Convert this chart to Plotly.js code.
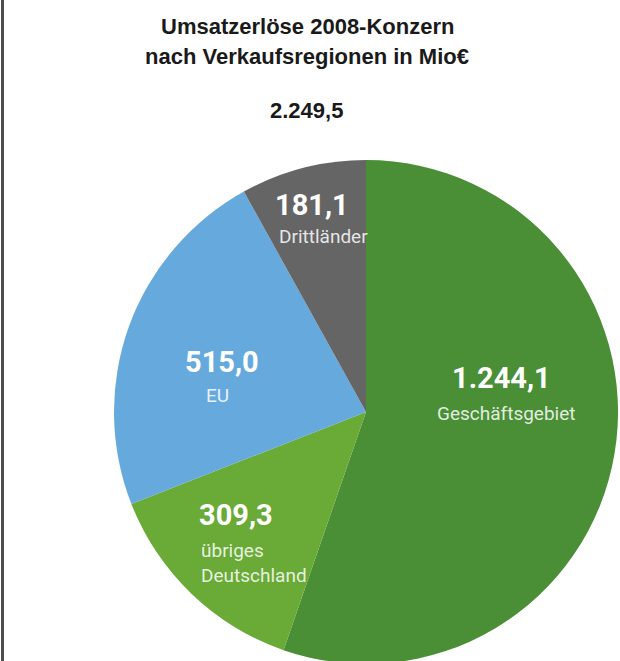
<!DOCTYPE html>
<html>
<head>
<meta charset="utf-8">
<script src="https://cdn.plot.ly/plotly-3.0.1.min.js"></script>
<style>
html,body{margin:0;padding:0;overflow:hidden;background:#fff;}
#chart{width:620px;height:668px;}
</style>
</head>
<body>
<div id="chart"></div>
<script>
// Data
const categories = ["Geschäftsgebiet", "übriges Deutschland", "EU", "Drittländer"];
const categoryLines = ["Geschäftsgebiet", "übriges<br>Deutschland", "EU", "Drittländer"];
const values = [1244.1, 309.3, 515.0, 181.1];
const colors = ["#4a8f36", "#6aaa36", "#66a9dc", "#656565"];
const titleLines = ["Umsatzerlöse 2008-Konzern", "nach Verkaufsregionen in Mio€"];

const W = 620, H = 668;
const px = x => x / W;
const py = y => 1 - y / H;

function de(v) {
  const parts = v.toFixed(1).split(".");
  parts[0] = parts[0].replace(/\B(?=(\d{3})+(?!\d))/g, ".");
  return parts.join(",");
}
const total = Math.round(values.reduce((a, b) => a + b, 0) * 10) / 10;

// label placement (pixel positions of value line and category line)
const labelPos = [
  {vx: 501, vy: 378, lx: 506, ly: 414, anchor: "center"},
  {vx: 197, vy: 515, lx: 199, ly: 563, anchor: "left"},
  {vx: 222, vy: 362, lx: 217, ly: 395, anchor: "center"},
  {vx: 273, vy: 205, lx: 277, ly: 236, anchor: "left"}
];

const valueFont = {family: "Roboto, 'Liberation Sans', sans-serif", size: 29, color: "#ffffff", weight: 700};
const labelFont = {family: "Roboto, 'DejaVu Sans', sans-serif", size: 19, color: "rgba(255,255,255,0.85)", stretch: "condensed"};

const annotations = [];
titleLines.forEach((t, i) => {
  annotations.push({
    text: t, xref: "paper", yref: "paper", x: px(307), y: py(i === 0 ? 26 : 57),
    xanchor: "center", yanchor: "middle", showarrow: false,
    font: {family: "'Liberation Sans', Arial, sans-serif", size: 22, color: "#1a1a1a", weight: 700}
  });
});
annotations.push({
  text: de(total), xref: "paper", yref: "paper", x: px(306), y: py(110),
  xanchor: "center", yanchor: "middle", showarrow: false,
  font: {family: "'Liberation Sans', Arial, sans-serif", size: 22, color: "#1a1a1a", weight: 700}
});
categories.forEach((c, i) => {
  const p = labelPos[i];
  annotations.push({
    text: de(values[i]), xref: "paper", yref: "paper", x: px(p.vx), y: py(p.vy),
    xanchor: p.anchor, yanchor: "middle", showarrow: false, font: valueFont
  });
  annotations.push({
    text: categoryLines[i], xref: "paper", yref: "paper", x: px(p.lx), y: py(p.ly),
    xanchor: p.anchor, yanchor: "middle", align: p.anchor, showarrow: false, font: labelFont
  });
});

const trace = {
  type: "pie",
  labels: categories,
  values: values,
  sort: false,
  direction: "clockwise",
  rotation: 0,
  textinfo: "none",
  hoverinfo: "skip",
  marker: {colors: colors, line: {width: 0}},
  domain: {x: [px(114), px(618)], y: [py(664), py(160)]},
  showlegend: false
};

const layout = {
  width: W, height: H,
  margin: {l: 0, r: 0, t: 0, b: 0},
  paper_bgcolor: "#ffffff",
  separators: ",.",
  showlegend: false,
  annotations: annotations,
  shapes: [{type: "line", xref: "paper", yref: "paper", x0: px(2.5), x1: px(2.5), y0: 0, y1: 1,
            line: {color: "#4d4d4d", width: 3}}]
};

Plotly.newPlot("chart", [trace], layout, {displayModeBar: false, staticPlot: true});
</script>
</body>
</html>
